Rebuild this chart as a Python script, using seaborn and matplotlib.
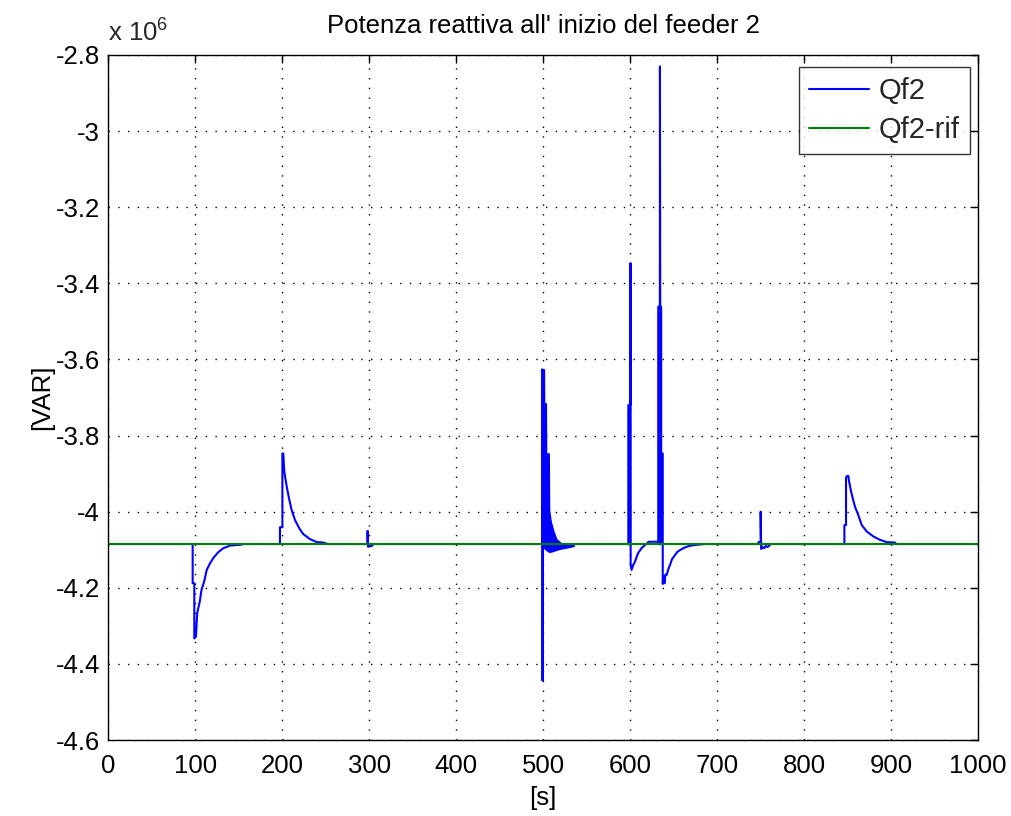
import numpy as np
import pandas as pd
import matplotlib
matplotlib.use("Agg")
import matplotlib.pyplot as plt
from matplotlib.ticker import FuncFormatter, MultipleLocator
import seaborn as sns

# Reactive power at the start of feeder 2, in units of 1e6 VAR
Q_REF = -4.085

# transient after the event at t = 100 s
t_ev100 = [0.0, 96.8, 96.8, 98.7, 98.7, 100.6, 102.0, 105.0, 107.0, 110.0, 113.0, 116.7, 120.5, 126.0, 132.0, 140.0, 151.0, 156.0]
q_ev100 = [Q_REF, Q_REF, -4.188, -4.188, -4.333, -4.328, -4.267, -4.236, -4.205, -4.184, -4.153, -4.136, -4.122, -4.107, -4.096, -4.089, -4.087, Q_REF]

# transient after the event at t = 200 s
t_ev200 = [197.2, 197.2, 200.0, 200.0, 201.0, 202.2, 205.0, 207.6, 210.7, 214.5, 219.5, 224.0, 231.7, 239.5, 247.0, 252.0]
q_ev200 = [Q_REF, -4.041, -4.041, -3.847, -3.847, -3.895, -3.934, -3.965, -3.996, -4.022, -4.044, -4.059, -4.072, -4.080, -4.081, Q_REF]

# small blip at t = 300 s
t_ev300 = [297.7, 297.7, 298.3, 298.5, 302.7, 305.0]
q_ev300 = [Q_REF, -4.051, -4.051, -4.092, -4.090, Q_REF]

# switching event at t = 500 s: thin spikes plus a dense oscillation band
t_ev500 = [498.9, 499.0, 499.2, 499.5, 500.8]
q_ev500 = [Q_REF, -3.626, -4.444, -3.715, Q_REF]
t_band500 = [499.3, 500.8, 501.0, 503.0, 503.3, 506.3, 506.7, 508.5, 511.5, 515.0, 520.0, 527.0, 535.0]
hi_band500 = [-3.626, -3.626, -3.715, -3.715, -3.847, -3.847, -3.995, -4.025, -4.050, -4.072, -4.082, -4.086, -4.088]
lo_band500 = [-4.095, -4.095, -4.095, -4.100, -4.100, -4.105, -4.105, -4.105, -4.103, -4.100, -4.097, -4.094, -4.090]

# switching event at t = 600 s
t_ev600 = [597.9, 597.9, 600.2, 600.3, 600.5, 601.5, 603.5, 605.5, 609.0, 613.0, 617.0, 619.0, 621.0, 632.3]
q_ev600 = [Q_REF, -3.720, -3.720, -3.347, -4.140, -4.153, -4.140, -4.131, -4.109, -4.096, -4.087, -4.085, -4.079, -4.079]
t_band600 = [597.9, 600.3]
hi_band600 = [-3.720, -3.720]
lo_band600 = [Q_REF, Q_REF]

# switching event at t = 635 s
t_ev635 = [632.3, 632.3, 634.1, 634.2, 634.5, 635.4, 635.4, 637.4, 637.4, 638.5, 639.5, 640.5, 642.0, 644.0,
           645.8, 648.0, 651.5, 654.0, 657.2, 661.0, 665.0, 670.0, 676.5, 686.0]
q_ev635 = [-4.079, -3.461, -3.461, -2.830, -3.461, -3.461, -3.847, -3.847, -4.190, -4.170, -4.188, -4.165, -4.166, -4.150,
           -4.140, -4.125, -4.114, -4.106, -4.101, -4.096, -4.092, -4.089, -4.087, Q_REF]
t_band635 = [632.3, 635.4]
hi_band635 = [-3.461, -3.461]
lo_band635 = [Q_REF, Q_REF]

# small event at t = 750 s
t_ev750 = [747.4, 747.4, 750.0, 750.0, 750.6, 752.0, 754.0, 756.0, 758.0, 761.6]
q_ev750 = [Q_REF, -4.080, -4.080, -4.000, -4.098, -4.092, -4.096, -4.090, -4.093, Q_REF]

# transient after the event at t = 850 s
t_ev850 = [846.3, 846.3, 848.2, 848.2, 849.5, 850.9, 851.5, 853.6, 855.9, 858.5, 862.3, 866.2, 872.0,
           879.6, 887.3, 895.0, 904.5, 906.0, 1000.0]
q_ev850 = [Q_REF, -4.035, -4.035, -3.910, -3.906, -3.906, -3.918, -3.943, -3.965, -3.987, -4.009, -4.035, -4.052,
           -4.065, -4.074, -4.080, -4.081, Q_REF, Q_REF]

# reference set-point
t_rif = [0.0, 1000.0]
q_rif = [Q_REF, Q_REF]

SCALE = 1e6

t_all = t_ev100 + t_ev200 + t_ev300 + t_ev500 + t_ev600 + t_ev635 + t_ev750 + t_ev850
q_all = q_ev100 + q_ev200 + q_ev300 + q_ev500 + q_ev600 + q_ev635 + q_ev750 + q_ev850
df = pd.DataFrame({"t": t_all, "Q": np.array(q_all) * SCALE, "serie": "Qf2"})
df_rif = pd.DataFrame({"t": t_rif, "Q": np.array(q_rif) * SCALE, "serie": "Qf2-rif"})

sns.set_theme(style="white")
plt.rcParams["font.family"] = ["Liberation Sans", "DejaVu Sans"]
plt.rcParams["mathtext.fontset"] = "custom"
plt.rcParams["mathtext.rm"] = "Liberation Sans"
plt.rcParams["mathtext.it"] = "Liberation Sans"

FS = 18.5
FS_LEG = 21

fig = plt.figure(figsize=(10.11, 8.16), dpi=100)
ax = fig.add_axes([0.1073, 0.0931, 0.8601, 0.8395])

BLUE = "#0000ff"
GREEN = "#008000"

sns.lineplot(data=df, x="t", y="Q", ax=ax, color=BLUE, lw=1.5, estimator=None, sort=False,
             label="Qf2")
for tb, lo, hi in [(t_band500, lo_band500, hi_band500),
                   (t_band600, lo_band600, hi_band600),
                   (t_band635, lo_band635, hi_band635)]:
    ax.fill_between(tb, np.array(lo) * SCALE, np.array(hi) * SCALE,
                    facecolor=BLUE, edgecolor=BLUE, lw=1.0)
sns.lineplot(data=df_rif, x="t", y="Q", ax=ax, color=GREEN, lw=1.5, estimator=None, sort=False,
             label="Qf2-rif")

ax.set_xlim(0, 1000)
ax.set_ylim(-4.6e6, -2.8e6)
ax.xaxis.set_major_locator(MultipleLocator(100))
ax.yaxis.set_major_locator(MultipleLocator(0.2e6))
ax.yaxis.set_major_formatter(FuncFormatter(lambda v, p: f"{v / SCALE:g}"))

ax.grid(True, color="black", linestyle=(0, (1, 6)), linewidth=1.0)
for s in ax.spines.values():
    s.set_color("black")
    s.set_linewidth(1.0)
ax.tick_params(direction="in", length=6, width=1.0, top=True, right=True,
               labelsize=FS, colors="black")
ax.tick_params(axis="x", pad=10)
ax.tick_params(axis="y", pad=6)

ax.set_title("Potenza reattiva all' inizio del feeder 2", fontsize=FS, pad=16, color="black")
ax.set_xlabel("[s]", fontsize=FS, color="black", labelpad=6)
ax.set_ylabel("[VAR]", fontsize=FS, color="black", labelpad=1)
ax.text(0.0, 1.012, r"x 10$^{6}$", transform=ax.transAxes, fontsize=FS, ha="left", va="bottom")

leg = ax.legend(loc="upper right", bbox_to_anchor=(0.991, 0.9825), borderaxespad=0,
                fontsize=FS_LEG, frameon=True, fancybox=False, edgecolor="black",
                handlelength=2.05, labelspacing=0.38, handletextpad=0.35, borderpad=0.35)
leg.get_frame().set_linewidth(1.0)

fig.savefig("out.png", dpi=100, facecolor="white")
